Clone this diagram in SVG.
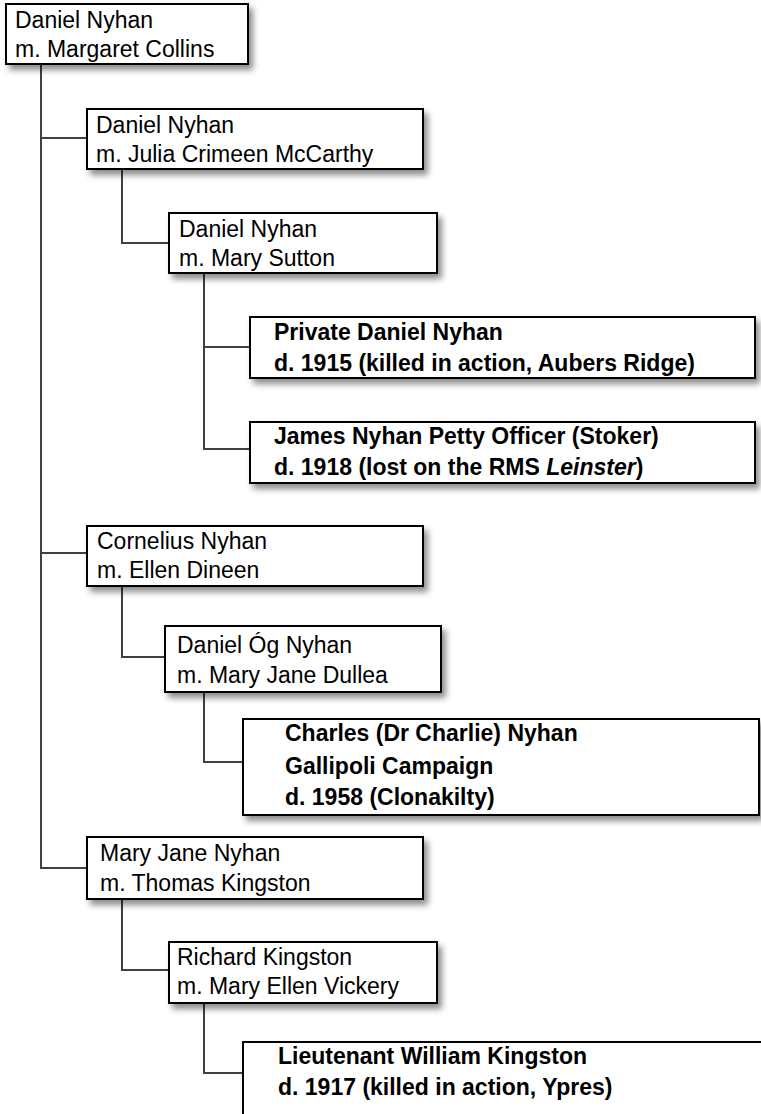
<svg xmlns="http://www.w3.org/2000/svg" width="761" height="1114" viewBox="0 0 761 1114">
<defs>
<filter id="sh" x="-10%" y="-20%" width="130%" height="160%">
<feDropShadow dx="4" dy="5" stdDeviation="3" flood-color="#000" flood-opacity="0.45"/>
</filter>
<style>
.box{fill:#fff;stroke:#000;stroke-width:2;filter:url(#sh)}
.r{font-family:'Liberation Sans',Arial,sans-serif;font-size:23px;fill:#000}
.b{font-family:'Liberation Sans',Arial,sans-serif;font-size:23px;font-weight:bold;fill:#000}
.c{fill:none;stroke:#404040;stroke-width:2}
</style>
</defs>
<rect width="761" height="1114" fill="#fff"/>
<g id="connectors">
<path class="c" d="M41 64V868H87M41 138H87M41 553H87"/>
<path class="c" d="M122 169V243H169"/>
<path class="c" d="M204 273V449H250M204 347H250"/>
<path class="c" d="M122 586V657H165"/>
<path class="c" d="M204 692V762H243"/>
<path class="c" d="M122 899V970H169"/>
<path class="c" d="M204 1003V1073H243"/>
</g>
<g id="n1"><rect class="box" x="6" y="4" width="242" height="60"/>
<text class="r" x="15" y="28">Daniel Nyhan</text><text class="r" x="15" y="57">m. Margaret Collins</text></g>
<g id="n2"><rect class="box" x="87" y="109" width="336" height="60"/>
<text class="r" x="96" y="133">Daniel Nyhan</text><text class="r" x="96" y="162">m. Julia Crimeen McCarthy</text></g>
<g id="n3"><rect class="box" x="169" y="213" width="268" height="60"/>
<text class="r" x="179" y="237">Daniel Nyhan</text><text class="r" x="179" y="266">m. Mary Sutton</text></g>
<g id="n4"><rect class="box" x="250" y="317" width="505" height="61"/>
<text class="b" x="274" y="340">Private Daniel Nyhan</text><text class="b" x="274" y="371">d. 1915 (killed in action, Aubers Ridge)</text></g>
<g id="n5"><rect class="box" x="250" y="422" width="505" height="61"/>
<text class="b" x="274" y="444">James Nyhan Petty Officer (Stoker)</text><text class="b" x="274" y="475">d. 1918 (lost on the RMS <tspan font-style="italic">Leinster</tspan>)</text></g>
<g id="n6"><rect class="box" x="87" y="526" width="336" height="60"/>
<text class="r" x="97" y="549">Cornelius Nyhan</text><text class="r" x="97" y="578">m. Ellen Dineen</text></g>
<g id="n7"><rect class="box" x="165" y="626" width="276" height="66"/>
<text class="r" x="177" y="653">Daniel Óg Nyhan</text><text class="r" x="177" y="683">m. Mary Jane Dullea</text></g>
<g id="n8"><rect class="box" x="243" y="719" width="516" height="96"/>
<text class="b" x="285" y="741">Charles (Dr Charlie) Nyhan</text><text class="b" x="285" y="774">Gallipoli Campaign</text><text class="b" x="285" y="805">d. 1958 (Clonakilty)</text></g>
<g id="n9"><rect class="box" x="87" y="837" width="336" height="62"/>
<text class="r" x="100" y="861">Mary Jane Nyhan</text><text class="r" x="100" y="891">m. Thomas Kingston</text></g>
<g id="n10"><rect class="box" x="169" y="942" width="268" height="61"/>
<text class="r" x="177" y="965">Richard Kingston</text><text class="r" x="177" y="994">m. Mary Ellen Vickery</text></g>
<g id="n11"><rect class="box" x="243" y="1042" width="530" height="90"/>
<text class="b" x="278" y="1064">Lieutenant William Kingston</text><text class="b" x="278" y="1095">d. 1917 (killed in action, Ypres)</text></g>
</svg>
